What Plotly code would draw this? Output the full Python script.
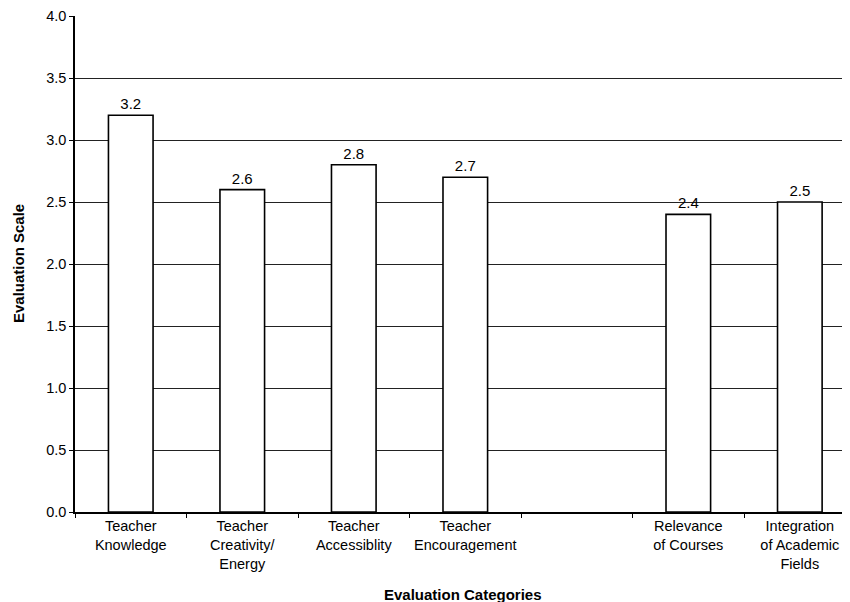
import plotly.graph_objects as go

categories = ["Teacher<br>Knowledge", "Teacher<br>Creativity/<br>Energy", "Teacher<br>Accessiblity",
              "Teacher<br>Encouragement", " ", "Relevance<br>of Courses",
              "Integration<br>of Academic<br>Fields"]
values = [3.2, 2.6, 2.8, 2.7, None, 2.4, 2.5]
labels = ["3.2", "2.6", "2.8", "2.7", "", "2.4", "2.5"]
y_ticks = [0.0, 0.5, 1.0, 1.5, 2.0, 2.5, 3.0, 3.5, 4.0]
y_tick_text = ["0.0", "0.5", "1.0", "1.5", "2.0", "2.5", "3.0", "3.5", "4.0"]

# page body adds an 8px offset; figure sized to fill the rest of the window
OFF = 8
W, H = 850 - OFF, 602 - OFF
L, R, T, B = 75 - OFF, 0, 16 - OFF, 90
pw, ph = W - L - R, H - T - B

fig = go.Figure(go.Bar(
    x=categories, y=values, text=labels, textposition="outside",
    textfont=dict(family="Liberation Sans, Arial", size=15, color="black"),
    marker=dict(color="white", line=dict(color="black", width=1.6)),
    width=0.4, cliponaxis=False,
))

fig.update_layout(
    width=W, height=H,
    margin=dict(l=L, r=R, t=T, b=B, autoexpand=False),
    plot_bgcolor="white", paper_bgcolor="white",
    font=dict(family="Liberation Sans, Arial", size=15, color="black"),
    showlegend=False,
    xaxis=dict(
        type="category", range=[-0.5, 6.45], tickson="boundaries",
        ticks="outside", ticklen=4, tickcolor="black",
        showline=True, linecolor="black", linewidth=1.5,
        showgrid=False, automargin=False,
        tickfont=dict(size=14.5),
    ),
    yaxis=dict(
        range=[0, 4.0], tickvals=y_ticks, ticktext=y_tick_text,
        ticks="outside", ticklen=4, tickcolor="black",
        showline=True, linecolor="black", linewidth=1.5,
        showgrid=True, gridcolor="#222", gridwidth=1.3,
        zeroline=False, automargin=False,
        tickfont=dict(size=14.5),
    ),
    bargap=0.6,
    annotations=[
        dict(text="<b>Evaluation Categories</b>", xref="paper", yref="paper",
             x=0.5, y=(T + ph - (594 - OFF)) / ph, xanchor="center", yanchor="middle",
             showarrow=False, font=dict(size=15)),
        dict(text="<b>Evaluation Scale</b>", xref="paper", yref="paper",
             x=(18 - 75) / pw, y=(T + ph - (264 - OFF)) / ph, xanchor="center", yanchor="middle",
             textangle=-90, showarrow=False, font=dict(size=15)),
    ],
)

fig.write_html("out.html")
